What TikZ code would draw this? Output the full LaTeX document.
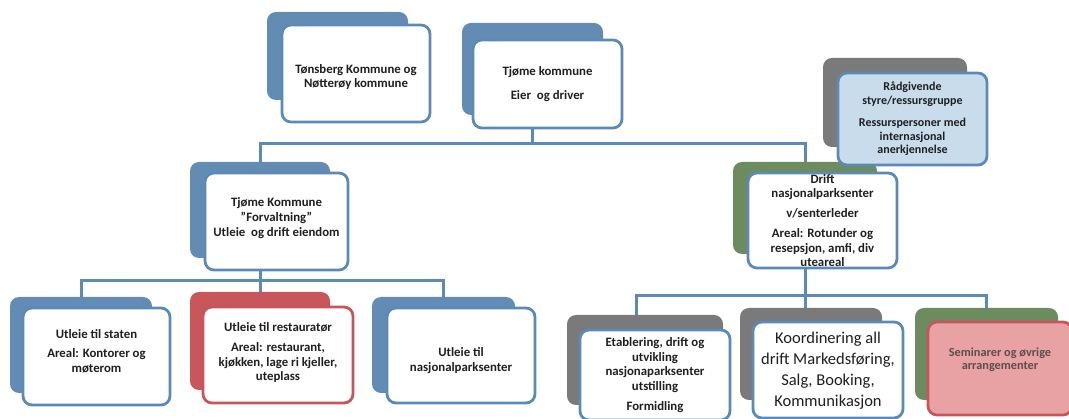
\documentclass[tikz,border=0pt]{standalone}
\usepackage{fontspec}
\setmainfont{Carlito}
\usetikzlibrary{backgrounds}
\definecolor{lineblue}{RGB}{92,138,182}
\definecolor{backblue}{RGB}{98,140,180}
\definecolor{backred}{RGB}{200,86,90}
\definecolor{backgreen}{RGB}{108,140,95}
\definecolor{backgray}{RGB}{122,122,122}
\definecolor{paleblue}{RGB}{200,220,236}
\definecolor{palered}{RGB}{232,162,164}
\definecolor{edgered}{RGB}{198,86,92}
\definecolor{semtext}{RGB}{92,78,78}
\tikzset{
  backbox/.style={rounded corners=9pt, inner sep=0pt},
  frontbox/.style={draw=lineblue, line width=2.8pt, fill=white, rounded corners=9pt,
    align=center, inner sep=0pt, text=black!88,
    font=\bfseries\fontsize{12.8}{14.5}\selectfont},
  conn/.style={draw=lineblue, line width=3pt},
}
\begin{document}
\begin{tikzpicture}[x=1pt, y=-1pt]
\useasboundingbox (0,0) rectangle (1069,419);

% heights of the three horizontal buses
\coordinate (bus1) at (0,144);
\coordinate (bus2) at (0,281);
\coordinate (bus3) at (0,296);

% level 0
\node[backbox, fill=backblue, minimum width=141pt, minimum height=88pt] (tonB) at (337.5,56) {};
\node[frontbox, minimum width=148pt, minimum height=97pt] (ton) at (356,73.5)
  {\rule{0pt}{16pt}Tønsberg Kommune og\\Nøtterøy kommune};
\node[backbox, fill=backblue, minimum width=141pt, minimum height=92pt] (tjB) at (532.5,69) {};
\node[frontbox, minimum width=149pt, minimum height=88pt] (tj) at (547.5,84)
  {Tjøme kommune\\[9pt]Eier~ og driver};

% level 1
\node[backbox, fill=backblue, minimum width=140pt, minimum height=96pt] (fvB) at (260,210) {};
\node[frontbox, minimum width=143pt, minimum height=97pt] (fv) at (276.5,221.5)
  {Tjøme Kommune\\[0.5pt]”Forvaltning”\\[0.5pt]Utleie~ og drift eiendom\\[-5pt]};
\node[backbox, fill=backgreen, minimum width=144pt, minimum height=92pt] (drB) at (805,208) {};
\node[frontbox, minimum width=149pt, minimum height=95pt] (dr) at (822.5,220.5)
  {Drift\\nasjonalparksenter\\[5.5pt]v/senterleder\\[5.5pt]Areal: Rotunder og\\resepsjon, amfi, div\\uteareal};
\node[backbox, fill=backgray, minimum width=144pt, minimum height=89pt] (radB) at (895,102.5) {};
\node[frontbox, fill=paleblue, minimum width=149pt, minimum height=92pt,
  font=\bfseries\fontsize{12}{13.8}\selectfont] (rad) at (912.5,119)
  {Rådgivende\\styre/ressursgruppe\\[8pt]Ressurspersoner med\\internasjonal\\anerkjennelse};

% level 2, left
\node[backbox, fill=backblue, minimum width=142pt, minimum height=96pt] (stB) at (81,345) {};
\node[frontbox, minimum width=147pt, minimum height=97pt] (st) at (96.5,356.5)
  {Utleie til staten\\[4.5pt]Areal: Kontorer og\\møterom\\[-4pt]};
\node[backbox, fill=backred, minimum width=140pt, minimum height=98pt] (rsB) at (260,341) {};
\node[frontbox, draw=edgered, minimum width=150pt, minimum height=96pt] (rs) at (278,355)
  {Utleie til restauratør\\[5.5pt]Areal: restaurant,\\kjøkken, lage ri kjeller,\\uteplass\\[-8pt]};
\node[backbox, fill=backblue, minimum width=143pt, minimum height=96pt] (npB) at (443.5,345) {};
\node[frontbox, minimum width=148pt, minimum height=95pt] (np) at (461,355.5)
  {\rule{0pt}{19pt}Utleie til\\nasjonalparksenter};

% level 2, right
\node[backbox, fill=backgray, minimum width=156pt, minimum height=90pt] (etB) at (645,360) {};
\node[frontbox, minimum width=150pt, minimum height=90pt] (et) at (655,375)
  {Etablering, drift og\\utvikling\\nasjonaparksenter\\utstilling\\[5.5pt]Formidling};
\node[backbox, fill=backgray, minimum width=142pt, minimum height=92pt] (koB) at (811,354) {};
\node[frontbox, minimum width=150pt, minimum height=96pt,
  font=\fontsize{16.5}{21}\selectfont] (ko) at (828,370)
  {Koordinering all\\drift Markedsføring,\\Salg, Booking,\\Kommunikasjon\\[-20pt]};
\node[backbox, fill=backgreen, minimum width=143pt, minimum height=92pt] (seB) at (986.5,354) {};
\node[frontbox, draw=edgered, fill=palered, text=semtext, minimum width=144pt, minimum height=93pt,
  font=\bfseries\fontsize{12.3}{13}\selectfont] (se) at (1000,368.5)
  {Seminarer og øvrige\\arrangementer\\[6pt]};

% connectors, drawn behind the boxes
\begin{pgfonlayer}{background}
\draw[conn] (tjB.center) -- (tjB |- bus1);
\draw[conn] (fvB.north) |- (drB.north |- bus1) -- (drB.north);
\draw[conn] (fvB.center) -- (rsB.north);
\draw[conn] (stB.north) |- (npB.north |- bus2) -- (npB.north);
\draw[conn] (drB.center) -- (drB.center |- koB.north);
\draw[conn] ([xshift=-9pt]etB.north) |- (seB.north |- bus3) -- (seB.north);
\end{pgfonlayer}
\end{tikzpicture}
\end{document}
